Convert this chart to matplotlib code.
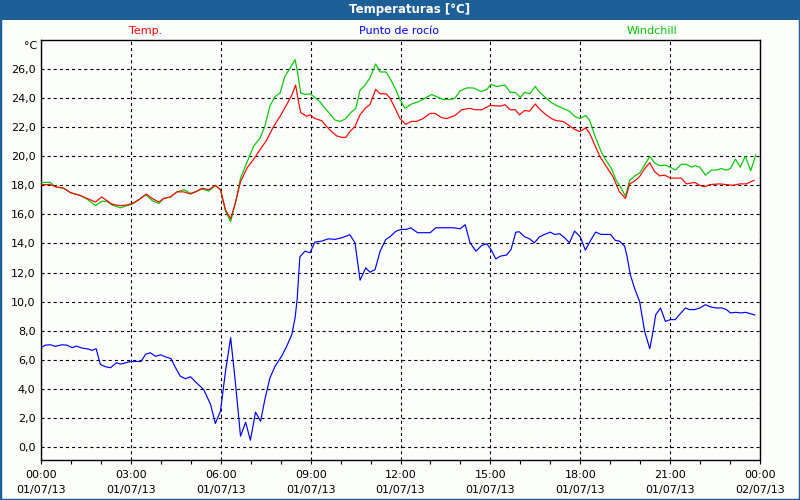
import matplotlib
matplotlib.use("Agg")
import matplotlib.pyplot as plt
import matplotlib.dates as mdates
from matplotlib.patches import Rectangle
import pandas as pd

plt.rcParams['font.family'] = ['DejaVu Sans']
plt.rcParams['lines.scale_dashes'] = False

# ---- data (hours after 01/07/13 00:00, value in °C) ----
temp_h = [0, 0.31, 0.48, 0.76, 0.98, 1.31, 1.54, 1.82, 2.02, 2.2, 2.37, 2.65, 2.87, 3.04, 3.26,
          3.51, 3.71, 3.93, 4.1, 4.32, 4.54, 4.77, 4.99, 5.21, 5.38, 5.6, 5.82, 5.99, 6.16, 6.33,
          6.49, 6.66, 6.88, 7.1, 7.31, 7.53, 7.75, 7.98, 8.2, 8.37, 8.5, 8.59, 8.67, 8.87, 8.98,
          9.14, 9.37, 9.53, 9.7, 9.87, 10.04, 10.18, 10.31, 10.48, 10.65, 10.82, 10.98, 11.17,
          11.32, 11.52, 11.65, 11.82, 11.98, 12.17, 12.37, 12.54, 12.76, 12.99, 13.15, 13.38,
          13.54, 13.82, 14.04, 14.32, 14.49, 14.71, 14.99, 15.33, 15.49, 15.66, 15.83, 15.97,
          16.14, 16.31, 16.5, 16.64, 16.86, 17.03, 17.2, 17.42, 17.64, 17.81, 17.98, 18.18,
          18.31, 18.48, 18.65, 18.87, 19.09, 19.31, 19.51, 19.65, 19.82, 19.98, 20.15, 20.32,
          20.48, 20.65, 20.82, 21.0, 21.2, 21.37, 21.54, 21.82, 21.99, 22.15, 22.32, 22.65,
          22.88, 23.1, 23.32, 23.55, 23.8]
temp_v = [18.05, 18.05, 17.9, 17.8, 17.5, 17.3, 17.1, 16.85, 17.2, 16.95, 16.7, 16.6, 16.65, 16.75, 17.0,
          17.4, 17.1, 16.85, 17.1, 17.2, 17.55, 17.55, 17.4, 17.6, 17.8, 17.7, 18.0, 17.7, 16.3, 15.7,
          16.8, 18.25, 19.2, 19.8, 20.45, 21.1, 22.0, 22.75, 23.55, 24.2, 24.9, 23.8, 23.0, 22.75, 22.85,
          22.6, 22.45, 22.05, 21.7, 21.4, 21.3, 21.3, 21.7, 22.05, 22.85, 23.3, 23.55, 24.6,
          24.3, 24.3, 24.0, 23.3, 22.6, 22.2, 22.4, 22.4, 22.6, 22.95, 22.95, 22.65,
          22.6, 22.8, 23.2, 23.3, 23.2, 23.2, 23.5, 23.45, 23.55, 23.2, 23.2, 22.85,
          23.15, 23.1, 23.6, 23.25, 22.85, 22.6, 22.45, 22.4, 22.1, 21.85, 21.7, 21.95,
          21.6, 20.8, 20.0, 19.3, 18.6, 17.55, 17.1, 18.1, 18.3, 18.6, 19.15, 19.55,
          18.95, 18.65, 18.7, 18.5, 18.5, 18.5, 18.1, 18.2, 18.0, 17.9, 18.05, 18.1,
          18.05, 18.0, 18.1, 18.1, 18.35]

wind_h = [0, 0.31, 0.48, 0.76, 0.98, 1.31, 1.54, 1.82, 2.02, 2.2, 2.37, 2.65, 2.87, 3.04, 3.26,
          3.51, 3.71, 3.93, 4.1, 4.32, 4.54, 4.77, 4.99, 5.21, 5.38, 5.6, 5.82, 5.99, 6.16, 6.33,
          6.49, 6.66, 6.88, 7.1, 7.31, 7.47, 7.64, 7.81, 7.98, 8.14, 8.31, 8.48, 8.55, 8.67, 8.81,
          8.98, 9.14, 9.31, 9.48, 9.65, 9.81, 9.98, 10.15, 10.31, 10.51, 10.65, 10.82, 10.98,
          11.17, 11.32, 11.52, 11.68, 11.85, 11.98, 12.15, 12.37, 12.6, 12.82, 13.04, 13.21,
          13.43, 13.65, 13.82, 13.99, 14.21, 14.44, 14.69, 14.88, 15.02, 15.21, 15.49, 15.66,
          15.83, 16.0, 16.14, 16.31, 16.5, 16.64, 16.81, 17.03, 17.2, 17.42, 17.64, 17.81, 17.98,
          18.18, 18.31, 18.48, 18.7, 18.87, 19.04, 19.2, 19.37, 19.51, 19.65, 19.82, 19.98,
          20.15, 20.32, 20.48, 20.65, 20.82, 21.0, 21.18, 21.37, 21.54, 21.71, 21.84, 21.99,
          22.18, 22.38, 22.54, 22.71, 22.88, 23.01, 23.18, 23.34, 23.51, 23.69, 23.86]
wind_v = [18.2, 18.2, 17.9, 17.8, 17.5, 17.3, 17.05, 16.6, 16.9, 16.9, 16.65, 16.45, 16.6, 16.7, 17.0,
          17.35, 16.95, 16.75, 17.1, 17.2, 17.55, 17.7, 17.45, 17.6, 17.75, 17.6, 18.0, 17.7, 16.2, 15.5,
          16.8, 18.5, 19.6, 20.7, 21.25, 22.05, 23.45, 24.1, 24.35, 25.5, 26.05, 26.65, 25.95, 24.35, 24.25,
          24.3, 24.05, 23.75, 23.3, 22.9, 22.5, 22.4, 22.55, 22.95, 23.3, 24.55, 24.9, 25.4,
          26.35, 25.8, 25.8, 25.25, 24.55, 23.9, 23.3, 23.6, 23.75, 24.0, 24.25, 24.1,
          23.9, 23.9, 24.0, 24.5, 24.7, 24.7, 24.45, 24.6, 24.95, 24.8, 24.9, 24.4,
          24.4, 24.05, 24.4, 24.3, 24.8, 24.4, 24.1, 23.7, 23.5, 23.3, 23.1, 22.75, 22.6,
          22.8, 22.5, 21.45, 20.3, 19.7, 19.15, 18.35, 17.8, 17.25, 18.35, 18.65, 18.85,
          19.4, 20.0, 19.55, 19.35, 19.4, 19.25, 19.05, 19.45, 19.45, 19.25, 19.35, 19.25,
          18.7, 19.05, 19.05, 19.15, 19.05, 19.15, 19.8, 19.25, 20.0, 19.0, 20.1]

dew_h = [0, 0.14, 0.31, 0.48, 0.7, 0.87, 1.04, 1.18, 1.37, 1.59, 1.7, 1.84, 1.98, 2.15, 2.32,
         2.52, 2.65, 2.82, 2.99, 3.15, 3.34, 3.49, 3.65, 3.82, 3.99, 4.15, 4.34, 4.49, 4.65, 4.82,
         4.99, 5.21, 5.43, 5.66, 5.82, 5.99, 6.16, 6.33, 6.49, 6.66, 6.83, 6.99, 7.16, 7.33,
         7.47, 7.64, 7.81, 8.03, 8.2, 8.37, 8.48, 8.55, 8.64, 8.81, 8.98, 9.14, 9.37, 9.59,
         9.81, 10.04, 10.31, 10.48, 10.65, 10.84, 10.98, 11.15, 11.32, 11.51, 11.65, 11.85,
         12.04, 12.2, 12.34, 12.57, 12.76, 12.99, 13.18, 13.49, 13.77, 13.99, 14.16, 14.32,
         14.52, 14.71, 14.88, 15.02, 15.18, 15.34, 15.54, 15.69, 15.85, 15.97, 16.14, 16.31,
         16.47, 16.64, 16.81, 17.0, 17.14, 17.31, 17.48, 17.64, 17.81, 18.0, 18.17, 18.35,
         18.51, 18.7, 18.87, 19.01, 19.17, 19.31, 19.48, 19.56, 19.67, 19.82, 19.98, 20.15,
         20.32, 20.41, 20.52, 20.68, 20.84, 21.01, 21.17, 21.34, 21.51, 21.65, 21.82, 21.99,
         22.18, 22.35, 22.54, 22.73, 22.88, 23.01, 23.19, 23.37, 23.52, 23.68, 23.82]
dew_v = [6.83, 7.0, 7.03, 6.92, 7.03, 7.0, 6.83, 6.94, 6.8, 6.73, 6.64, 6.76, 5.68, 5.52, 5.45,
         5.79, 5.7, 5.79, 5.88, 5.88, 5.88, 6.37, 6.48, 6.23, 6.34, 6.2, 6.07, 5.45, 4.87, 4.69,
         4.83, 4.37, 3.95, 2.92, 1.61, 2.46, 5.22, 7.52, 4.41, 0.74, 1.7, 0.46, 2.39, 1.77,
         3.24, 4.74, 5.54, 6.23, 6.92, 7.72, 8.87, 10.14, 13.08, 13.47, 13.36, 14.09, 14.16, 14.32,
         14.28, 14.39, 14.6, 14.05, 11.47, 12.32, 12.02, 12.2, 13.47, 14.28, 14.46, 14.85,
         14.97, 14.97, 15.08, 14.74, 14.74, 14.74, 15.08, 15.08, 15.08, 15.01, 15.29, 14.05,
         13.47, 13.86, 13.98, 13.59, 12.94, 13.13, 13.2, 13.59, 14.78, 14.8, 14.46, 14.32,
         14.05, 14.46, 14.62, 14.78, 14.62, 14.67, 14.39, 14.05, 14.85, 14.46, 13.54, 14.23,
         14.78, 14.62, 14.62, 14.62, 14.21, 14.16, 13.82, 13.13, 11.86, 10.87, 10.02, 7.95,
         6.76, 7.72, 9.1, 9.56, 8.64, 8.76, 8.76, 9.17, 9.56, 9.45, 9.45, 9.56,
         9.79, 9.63, 9.56, 9.56, 9.45, 9.22, 9.26, 9.22, 9.26, 9.17, 9.08]

series_names = ["Temp.", "Punto de rocío", "Windchill"]
series_colors = ["#FF0000", "#0000FF", "#00C800"]
title_text = "Temperaturas [°C]"
y_ticks = [0, 2, 4, 6, 8, 10, 12, 14, 16, 18, 20, 22, 24, 26]

base = pd.Timestamp("2013-07-01 00:00")
def to_dt(hours):
    return [base + pd.Timedelta(hours=h) for h in hours]

bg = "#FCFEFC"
fig = plt.figure(figsize=(8, 5), dpi=100)
fig.patch.set_facecolor(bg)

ax = fig.add_axes([41/800, 1 - 460/500, (760-41)/800, (460-40)/500])
ax.set_facecolor(bg)

ax.plot(to_dt(temp_h), temp_v, color=series_colors[0], lw=0.85, zorder=4)
ax.plot(to_dt(wind_h), wind_v, color=series_colors[2], lw=0.85, zorder=3)
ax.plot(to_dt(dew_h), dew_v, color=series_colors[1], lw=0.85, zorder=4)

ax.set_xlim(base, base + pd.Timedelta(hours=24))
ax.set_ylim(-0.9, 28.0)

ax.xaxis.set_major_locator(mdates.HourLocator(byhour=range(0, 24, 3)))
ax.xaxis.set_minor_locator(mdates.HourLocator())
ax.xaxis.set_major_formatter(mdates.DateFormatter("%H:%M\n%d/%m/%y"))
ax.set_yticks(y_ticks)
ax.set_yticklabels([f"{v:.1f}".replace(".", ",") for v in y_ticks])

ax.tick_params(axis="x", which="both", direction="out", length=3, width=0.8, pad=4,
               labelsize=8, colors="black")
ax.tick_params(axis="y", length=0, pad=4, labelsize=8)
for lbl in ax.get_xticklabels():
    lbl.set_linespacing(1.6)

ax.grid(True, which="major", color="black", lw=0.8, linestyle=(0, (2.2, 2.2)))
for s in ax.spines.values():
    s.set_color("black")
    s.set_linewidth(1.0)

# title bar
fig.patches.append(Rectangle((0, 1 - 20/500), 1, 20/500, transform=fig.transFigure,
                             facecolor="#1F5F97", edgecolor="none", zorder=0))
fig.text(410/800, 1 - 10/500, title_text, color="white", fontsize=8.5, fontweight="bold",
         ha="center", va="center")
# window frame
fig.patches.append(Rectangle((0, 0), 1, 1, transform=fig.transFigure, facecolor="none",
                             edgecolor="#1F5F97", lw=2.5, zorder=10))

# legend labels
fig.text(146/800, 1 - 31/500, series_names[0], color=series_colors[0], fontsize=8, ha="center", va="center")
fig.text(399/800, 1 - 31/500, series_names[1], color=series_colors[1], fontsize=8, ha="center", va="center")
fig.text(652/800, 1 - 31/500, series_names[2], color=series_colors[2], fontsize=8, ha="center", va="center")
fig.text(37/800, 1 - 46/500, "°C", color="black", fontsize=8, ha="right", va="center")

fig.savefig("out.png", dpi=100, facecolor=bg)
